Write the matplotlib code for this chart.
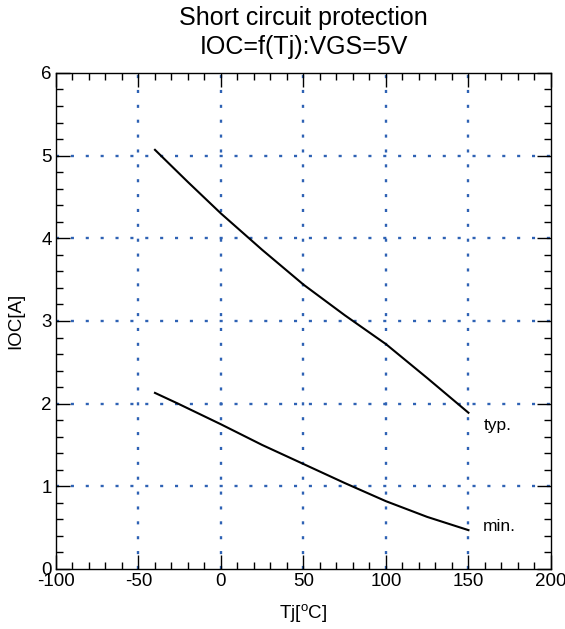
import numpy as np
import matplotlib
matplotlib.use("Agg")
import matplotlib.pyplot as plt
from matplotlib.ticker import MultipleLocator

plt.rcParams['font.family'] = ['Liberation Sans', 'DejaVu Sans']
plt.rcParams['mathtext.fontset'] = 'custom'
plt.rcParams['mathtext.rm'] = 'Liberation Sans'
plt.rcParams['axes.unicode_minus'] = False

# curves
tj_typ = [-40, -20, 0, 25, 50, 75, 100, 125, 150]
ioc_typ = [5.07, 4.68, 4.30, 3.86, 3.44, 3.07, 2.72, 2.31, 1.89]

tj_min = [-40, -26, 0, 25, 50, 75, 100, 125, 150]
ioc_min = [2.13, 2.00, 1.75, 1.50, 1.27, 1.04, 0.82, 0.63, 0.47]

xticks = [-100, -50, 0, 50, 100, 150, 200]
yticks = [0, 1, 2, 3, 4, 5, 6]

fig = plt.figure(figsize=(5.65, 6.29), dpi=100)
ax = fig.add_axes([0.0991, 0.0954, 0.876, 0.7886])

ax.set_xlim(-100, 200)
ax.set_ylim(0, 6)
ax.set_xticks(xticks)
ax.set_yticks(yticks)
ax.xaxis.set_minor_locator(MultipleLocator(10))
ax.yaxis.set_minor_locator(MultipleLocator(0.2))

# dotted blue grid only on inner majors
gridcol = '#2e62b4'
for x in xticks[1:-1]:
    ax.axvline(x, color=gridcol, lw=1.7, ls=(0, (1.3, 5.0)), zorder=1)
for y in yticks[1:-1]:
    ax.axhline(y, color=gridcol, lw=1.7, ls=(0, (1.3, 5.0)), zorder=1)

ax.plot(tj_typ, ioc_typ, color='black', lw=1.5, zorder=3)
ax.plot(tj_min, ioc_min, color='black', lw=1.5, zorder=3)

ax.text(159, 1.74, 'typ.', fontsize=12.5, va='center', ha='left')
ax.text(159, 0.51, 'min.', fontsize=12.5, va='center', ha='left')

ax.tick_params(which='both', direction='in', top=True, right=True,
               labelsize=13.5, width=1.0, colors='black')
ax.tick_params(which='major', length=10, pad=3)
ax.tick_params(which='minor', length=5)
for s in ax.spines.values():
    s.set_linewidth(1.0)

ax.set_xlabel(r'Tj[$^{\rm o}$C]', fontsize=13.5, labelpad=9)
ax.set_ylabel('IOC[A]', fontsize=13.5, labelpad=12)

fig.text(0.5375, 0.971, 'Short circuit protection', fontsize=18,
         ha='center', va='center')
fig.text(0.5375, 0.926, 'IOC=f(Tj):VGS=5V', fontsize=18,
         ha='center', va='center')

fig.savefig('out.png', dpi=100)
